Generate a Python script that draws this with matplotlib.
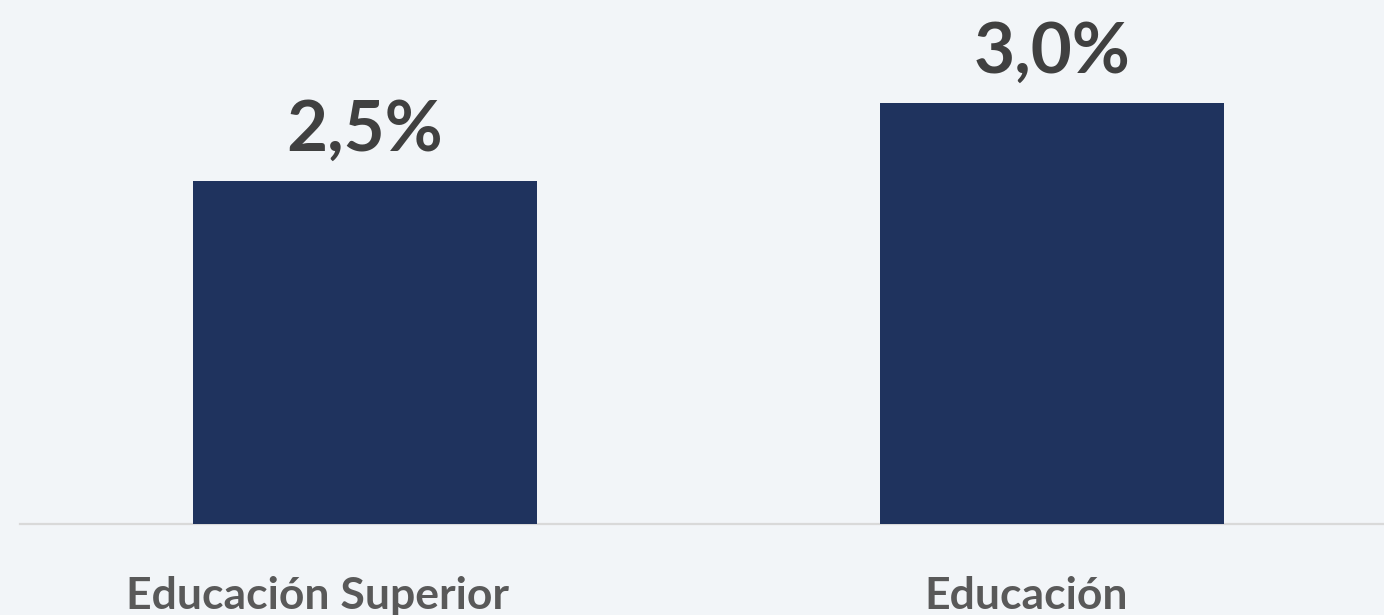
import matplotlib.pyplot as plt

categories = ["Educación Superior", "Educación"]
values = [2.47, 3.03]
value_labels = ["2,5%", "3,0%"]

bar_color = "#1f335e"
bg = "#f2f5f8"
fam = "Lato"

fig = plt.figure(figsize=(13.84, 6.15), dpi=100, facecolor=bg)
ax = fig.add_axes([20 / 1384, 91 / 615, 1 - 20 / 1384, 524 / 615])
ax.set_facecolor("none")

x = list(range(len(categories)))
ax.bar(x, values, width=0.5, color=bar_color, zorder=3)
ax.set_xlim(-0.502, 1.483)
ax.set_ylim(0, 3.773)

for s in ["top", "right", "left"]:
    ax.spines[s].set_visible(False)
ax.spines["bottom"].set_color("#d9d9d9")
ax.spines["bottom"].set_linewidth(1.6)
ax.set_yticks([])
ax.set_xticks([])

# label shifts (points), the category labels sit a bit left of the bars
shifts = [-34, -19]
for i, v in enumerate(values):
    ax.annotate(value_labels[i], (x[i], v), xytext=(0, 22), textcoords="offset points",
                ha="center", va="baseline", fontsize=51, fontweight="bold",
                color="#404040", family=fam)
    ax.annotate(categories[i], (x[i], 0), xytext=(shifts[i], -61), textcoords="offset points",
                ha="center", va="baseline", fontsize=32, fontweight="bold",
                color="#595959", family=fam, annotation_clip=False)

fig.savefig("out.png", dpi=100, facecolor=bg)
